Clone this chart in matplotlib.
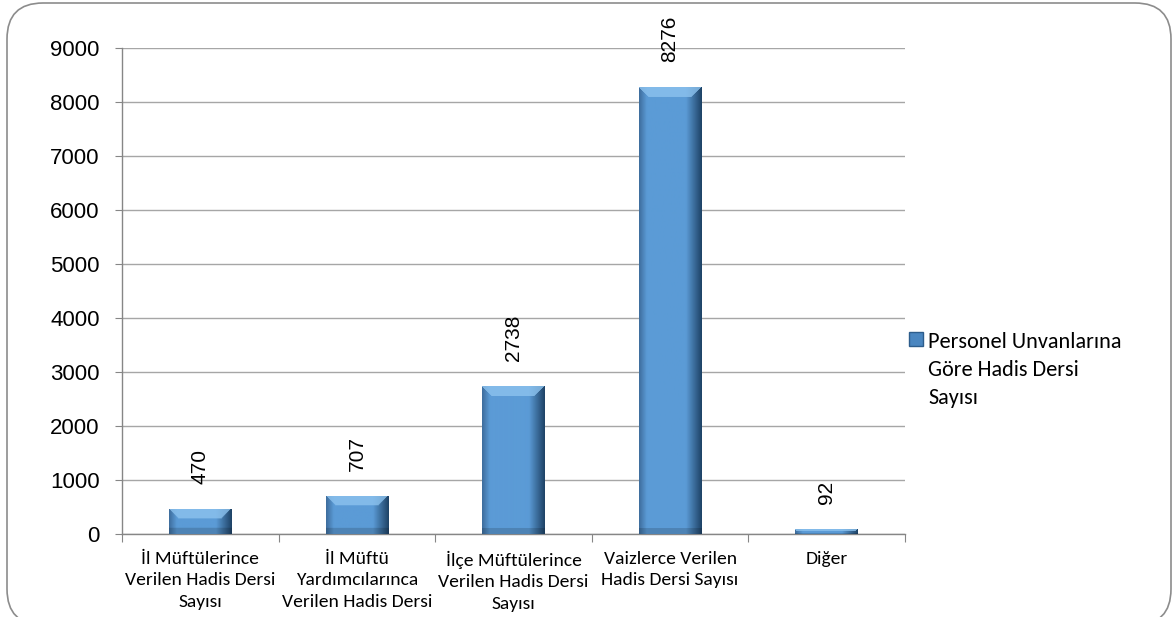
import numpy as np
import matplotlib
matplotlib.use("Agg")
import matplotlib.pyplot as plt
from matplotlib.patches import FancyBboxPatch, Patch
from matplotlib.colors import to_rgb

# -----------------------------------
# Data
# -----------------------------------
categories = [
    "İl Müftülerince\nVerilen Hadis Dersi\nSayısı",
    "İl Müftü\nYardımcılarınca\nVerilen Hadis Dersi",
    "İlçe Müftülerince\nVerilen Hadis Dersi\nSayısı",
    "Vaizlerce Verilen\nHadis Dersi Sayısı",
    "Diğer",
]
values = [470, 707, 2738, 8276, 92]
series_name = "Personel Unvanlarına\nGöre Hadis Dersi\nSayısı"
y_ticks = [0, 1000, 2000, 3000, 4000, 5000, 6000, 7000, 8000, 9000]

calibri = ["Carlito", "Lato", "DejaVu Sans"]
arial = ["Liberation Sans", "DejaVu Sans"]

fig = plt.figure(figsize=(11.72, 6.17), dpi=100)

# rounded frame around the chart area
frame = FancyBboxPatch((7, -8), 1164, 622, boxstyle="round,pad=0,rounding_size=36",
                       transform=None, facecolor="none", edgecolor="#8c8c8c", lw=1.2,
                       zorder=-1)
fig.patches.append(frame)

ax = fig.add_axes([0.1041, 0.1345, 0.6681, 0.7877])
ax.set_facecolor("none")

x = np.arange(len(values))
bars = ax.bar(x, values, width=0.4, color="#5B9BD5", zorder=3)

ax.set_xlim(-0.5, len(values) - 0.5)
ax.set_ylim(0, 9000)
ax.set_yticks(y_ticks)
ax.set_yticklabels([str(v) for v in y_ticks], fontsize=16, family=arial)
ax.grid(axis="y", color="#a6a6a6", lw=1, zorder=0)
ax.set_axisbelow(True)

# category boundaries as major ticks, labels on minor ticks
ax.set_xticks(np.arange(-0.5, len(values), 1.0))
ax.set_xticklabels([])
ax.set_xticks(x, minor=True)
ax.set_xticklabels(categories, minor=True, fontsize=14, family=calibri, linespacing=1.42)
ax.tick_params(axis="x", which="major", length=6, color="#868686")
ax.tick_params(axis="x", which="minor", length=0, pad=12)
ax.tick_params(axis="y", length=5, color="#868686", pad=11)

for s in ["top", "right"]:
    ax.spines[s].set_visible(False)
for s in ["left", "bottom"]:
    ax.spines[s].set_color("#868686")
    ax.spines[s].set_linewidth(1)

# bevel-like shading for each bar
dark_l = np.array(to_rgb("#3f6f9f"))
mid = np.array(to_rgb("#5b9bd6"))
light = np.array(to_rgb("#8cc2ee"))
dark_r = np.array(to_rgb("#1f4468"))
px_per_unit = 487 / 9000.0
for b in bars:
    w_px = 62
    h_px = max(int(round(b.get_height() * px_per_unit)), 2)
    cols = np.linspace(0, 1, w_px)
    prof = np.zeros((w_px, 3))
    for i, c in enumerate(cols):
        if c < 0.12:
            t = c / 0.12
            prof[i] = dark_l * (1 - t) + mid * t
        elif c < 0.75:
            prof[i] = mid
        else:
            t = (c - 0.75) / 0.25
            prof[i] = mid * (1 - t) + dark_r * t
    img = np.repeat(prof[None, :, :], h_px, axis=0)
    bev = min(10, h_px // 2)
    for r in range(bev):
        lo, hi = r, w_px - 1 - r
        img[r, lo:hi] = light * 0.8 + img[r, lo:hi] * 0.2
    for r in range(min(6, h_px // 3)):
        img[h_px - 1 - r] = img[h_px - 1 - r] * 0.85
    x0, y0 = b.get_x(), b.get_y()
    im = ax.imshow(img, extent=(x0, x0 + b.get_width(), y0, y0 + b.get_height()),
                   aspect="auto", zorder=4, interpolation="bilinear")
    im.set_clip_path(b)

for xi, v in zip(x, values):
    ax.annotate(str(v), (xi, v), xytext=(0, 18), textcoords="offset points",
                rotation=90, ha="center", va="bottom", fontsize=15, family=arial)

leg = fig.legend(handles=[Patch(facecolor="#4a86c0", edgecolor="#2d5d8c")], labels=[series_name],
                 loc="upper left", bbox_to_anchor=(0.776, 0.462), frameon=False,
                 prop={"family": calibri, "size": 16}, handlelength=0.6, handleheight=0.6,
                 handletextpad=0.25, borderpad=0, borderaxespad=0)
for t in leg.get_texts():
    t.set_linespacing(1.5)
for col in leg._legend_handle_box.get_children():
    for hp in col.get_children():
        hp.align = "top"

fig.savefig("out.png", dpi=100)
